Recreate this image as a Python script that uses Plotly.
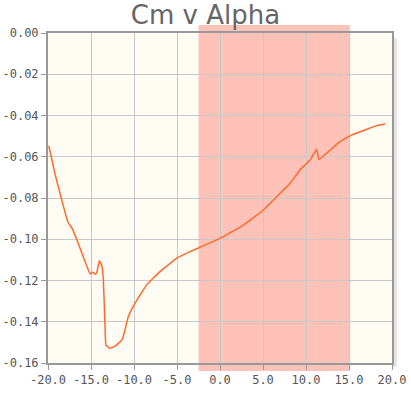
import plotly.graph_objects as go

alpha = [-19.9, -19.2, -18.4, -17.7, -17.2, -16.7, -15.9, -15.3, -15.1, -14.8, -14.5, -14.3,
         -14.03, -13.76, -13.57, -13.37, -13.26, -12.8, -12.2, -11.4, -11.05, -10.66, -9.88,
         -8.5, -6.98, -5.03, -3.49, -2.33, 0.0, 2.71, 5.04, 6.59, 8.14, 9.3, 10.47, 11.24,
         11.51, 12.6, 13.95, 15.3, 17.05, 18.2, 19.2]
cm = [-0.0548, -0.068, -0.081, -0.0915, -0.0947, -0.0996, -0.1085, -0.115, -0.1168, -0.116,
      -0.117, -0.1157, -0.1104, -0.1125, -0.119, -0.1424, -0.1513, -0.1529, -0.1518, -0.1488,
      -0.144, -0.1375, -0.131, -0.122, -0.1157, -0.1092, -0.106, -0.1039, -0.0996, -0.0931,
      -0.0858, -0.0794, -0.0729, -0.0664, -0.0616, -0.0564, -0.0613, -0.0575, -0.0527,
      -0.0495, -0.0467, -0.0449, -0.0441]

band = [-2.5, 15.1]

x_ticks = [-20, -15, -10, -5, 0, 5, 10, 15, 20]
x_labels = ["-20.0", "-15.0", "-10.0", "-5.0", "0.0", "5.0", "10.0", "15.0", "20.0"]
y_ticks = [0, -0.02, -0.04, -0.06, -0.08, -0.10, -0.12, -0.14, -0.16]
y_labels = ["0.00", "-0.02", "-0.04", "-0.06", "-0.08", "-0.10", "-0.12", "-0.14", "-0.16"]

fig = go.Figure()
fig.add_trace(go.Scatter(x=alpha, y=cm, mode="lines",
                         line=dict(color="#FF6A2A", width=1.5, shape="spline", smoothing=0.3),
                         hoverinfo="skip", showlegend=False))

# shadow at right of frame
fig.add_shape(type="rect", xref="paper", yref="paper", x0=1.0, x1=1.014, y0=-0.012, y1=0.985,
              fillcolor="#E4E4E4", line=dict(width=0), layer="below")
fig.add_shape(type="rect", xref="x", yref="paper", x0=band[0], x1=band[1], y0=-0.024, y1=1.024,
              fillcolor="#FFC2B8", line=dict(width=0), layer="below")

axis_common = dict(showgrid=True, gridcolor="#C8C8C8", gridwidth=1, zeroline=False,
                   showline=True, linecolor="#999999", linewidth=2, mirror=True,
                   ticks="outside", ticklen=5, tickcolor="#999999", automargin=False,
                   tickfont=dict(family="DejaVu Sans Mono", size=12, color="#555555"))

fig.update_layout(
    width=411, height=398,
    margin=dict(l=48, r=19, t=33, b=35),
    paper_bgcolor="white", plot_bgcolor="#FFFCF4",
    title=dict(text="Cm v Alpha", x=0.5, xanchor="center", y=0.963, yanchor="middle",
               font=dict(family="DejaVu Sans", size=26, color="#666666")),
    xaxis=dict(range=[-20, 20], tickvals=x_ticks, ticktext=x_labels, **axis_common),
    yaxis=dict(range=[-0.16, 0], tickvals=y_ticks, ticktext=y_labels, **axis_common),
)

fig.write_html("out.html", config={"displayModeBar": False},
               post_script="document.body.style.margin='0px';document.body.style.padding='0px';"
                           "document.body.style.overflow='hidden';")
